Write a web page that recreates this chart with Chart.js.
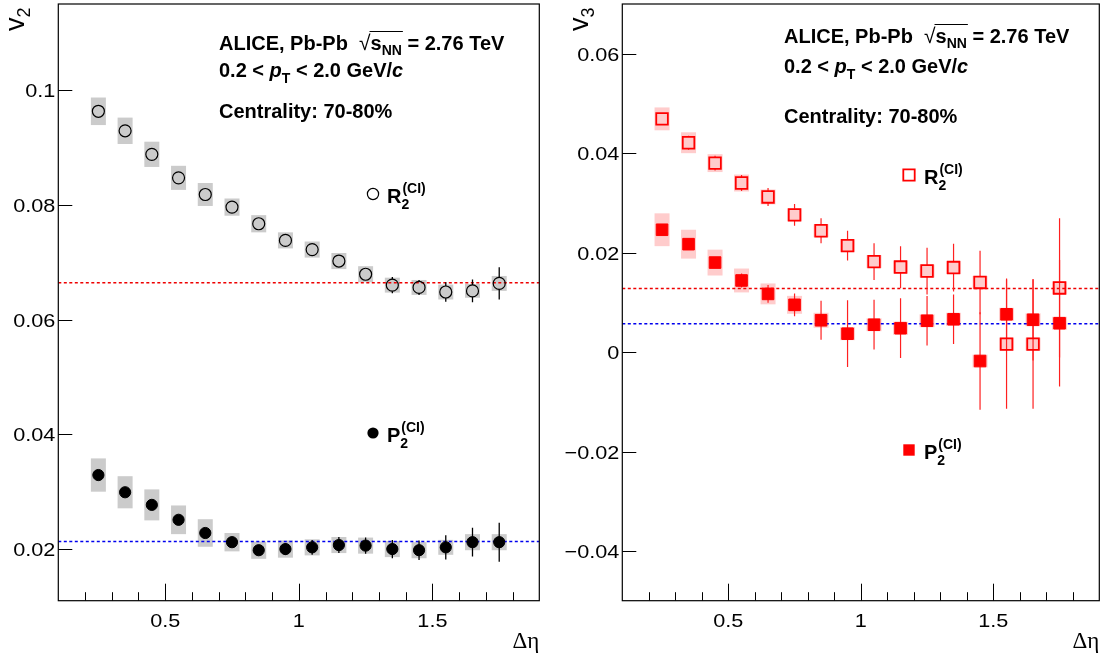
<!DOCTYPE html>
<html>
<head>
<meta charset="utf-8">
<script src="https://cdn.jsdelivr.net/npm/chart.js@4.4.0/dist/chart.umd.min.js"></script>
<style>
  html, body { margin:0; padding:0; background:#fff; }
  #w1 { position:absolute; left:0; top:0; width:553px; height:654px; }
  #w2 { position:absolute; left:553px; top:0; width:554px; height:654px; }
</style>
</head>
<body>
<div id="w1"><canvas id="c1" width="553" height="654"></canvas></div>
<div id="w2"><canvas id="c2" width="554" height="654"></canvas></div>
<script>
// ---------------- data ----------------
const eta = [0.25,0.35,0.45,0.55,0.65,0.75,0.85,0.95,1.05,1.15,1.25,1.35,1.45,1.55,1.65,1.75];

const v2R2     = [0.0963,0.0929,0.0888,0.0847,0.0818,0.0796,0.0767,0.0738,0.0722,0.0702,0.0679,0.0660,0.0656,0.0648,0.0650,0.0663];
const v2R2Stat = [0.0004,0.0004,0.0004,0.0005,0.0005,0.0005,0.0006,0.0006,0.0007,0.0008,0.0009,0.0014,0.0013,0.0017,0.0020,0.0028];
const v2R2Sys  = [0.0024,0.0023,0.0022,0.0021,0.0020,0.0015,0.0015,0.0014,0.0014,0.0014,0.0014,0.0013,0.0013,0.0013,0.0012,0.0013];

const v2P2     = [0.0329,0.0299,0.0277,0.0251,0.0228,0.0212,0.0198,0.0200,0.0203,0.0207,0.0206,0.0200,0.0198,0.0203,0.0212,0.0212];
const v2P2Stat = [0.0005,0.0005,0.0005,0.0005,0.0006,0.0007,0.0009,0.0010,0.0013,0.0014,0.0014,0.0016,0.0017,0.0021,0.0025,0.0034];
const v2P2Sys  = [0.0029,0.0028,0.0027,0.0025,0.0024,0.0016,0.0015,0.0015,0.0014,0.0014,0.0014,0.0014,0.0014,0.0013,0.0014,0.0014];

const v3R2     = [0.0469,0.0421,0.0380,0.0340,0.0312,0.0276,0.0244,0.0214,0.0182,0.0171,0.0163,0.0170,0.0140,0.0016,0.0016,0.0129];
const v3R2Stat = [0.0008,0.0014,0.0015,0.0016,0.0018,0.0022,0.0025,0.0030,0.0037,0.0042,0.0047,0.0048,0.0064,0.0130,0.0130,0.0140];
const v3R2Sys  = [0.0023,0.0021,0.0018,0.0017,0.0015,0.0013,0.0013,0.0013,0.0013,0.0013,0.0013,0.0013,0.0013,0.0013,0.0013,0.0013];

const v3P2     = [0.0246,0.0217,0.0180,0.0144,0.0117,0.0095,0.0064,0.0037,0.0055,0.0048,0.0063,0.0066,-0.0018,0.0076,0.0065,0.0058];
const v3P2Stat = [0.0008,0.0008,0.0009,0.0014,0.0018,0.0023,0.0039,0.0067,0.0050,0.0060,0.0050,0.0050,0.0098,0.0072,0.0082,0.0127];
const v3P2Sys  = [0.0033,0.0029,0.0026,0.0024,0.0021,0.0018,0.0015,0.0013,0.0013,0.0013,0.0013,0.0013,0.0013,0.0013,0.0013,0.0013];

const v2RefR2 = 0.0664, v2RefP2 = 0.0213;
const v3RefR2 = 0.0128, v3RefP2 = 0.0057;

const xRange = [0.1, 1.9];
const xTicks = [0.5, 1, 1.5];
const xTickLabels = ["0.5", "1", "1.5"];
const xMinorTicks = [0.2,0.3,0.4,0.6,0.7,0.8,0.9,1.1,1.2,1.3,1.4,1.6,1.7,1.8];
const v2Range = [0.011, 0.115];
const v2Ticks = [0.02, 0.04, 0.06, 0.08, 0.1];
const v2TickLabels = ["0.02", "0.04", "0.06", "0.08", "0.1"];
const v3Range = [-0.05, 0.07];
const v3Ticks = [-0.04, -0.02, 0, 0.02, 0.04, 0.06];
const v3TickLabels = ["\u22120.04", "\u22120.02", "0", "0.02", "0.04", "0.06"];

// ---------------- helpers ----------------
const FAM = '"Liberation Sans", Arial, Helvetica, sans-serif';
function fnt(s, b, i) { return (i ? 'italic ' : '') + (b ? 'bold ' : '') + s + 'px ' + FAM; }
function drawRich(ctx, x, y, segs) {
  let cx = x; const marks = {};
  ctx.textAlign = 'left'; ctx.textBaseline = 'alphabetic';
  for (const sg of segs) {
    ctx.font = sg.f || fnt(sg.s, sg.b, sg.i);
    if (sg.mark) marks[sg.mark] = cx;
    ctx.fillText(sg.t, cx, y + (sg.dy || 0));
    const w = ctx.measureText(sg.t).width;
    if (!sg.noAdv) cx += w;
    if (sg.markEnd) marks[sg.markEnd] = cx;
  }
  return { end: cx, marks };
}
function stretchText(ctx, txt, x, y, align, sx) {
  ctx.save();
  ctx.translate(x, y); ctx.scale(sx, 1);
  ctx.textAlign = align; ctx.textBaseline = 'alphabetic';
  ctx.fillText(txt, 0, 0);
  ctx.restore();
}
function headerText(ctx, x, y1, y2, y3) {
  ctx.fillStyle = '#000';
  const r = drawRich(ctx, x, y1, [
    { t: 'ALICE, Pb-Pb  ', s: 20, b: true },
    { t: '\u221A', s: 21, b: false, markEnd: 'sq0' },
    { t: 's', s: 20, b: true },
    { t: 'NN', s: 14, b: true, dy: 5, markEnd: 'sq1' },
    { t: ' = 2.76 TeV', s: 20, b: true }
  ]);
  ctx.strokeStyle = '#000'; ctx.lineWidth = 1.2;
  ctx.beginPath(); ctx.moveTo(r.marks.sq0 - 1, y1 - 18.5); ctx.lineTo(r.marks.sq1 + 1, y1 - 18.5); ctx.stroke();
  drawRich(ctx, x, y2, [
    { t: '0.2 < ', s: 20, b: true },
    { t: 'p', s: 20, b: true, i: true },
    { t: 'T', s: 14, b: true, dy: 6 },
    { t: ' < 2.0 GeV/', s: 20, b: true },
    { t: 'c', s: 20, b: true, i: true }
  ]);
  drawRich(ctx, x, y3, [{ t: 'Centrality: 70-80%', s: 20, b: true }]);
}
function legendLabel(ctx, x, y, letter) {
  ctx.fillStyle = '#000';
  const r = drawRich(ctx, x, y, [{ t: letter, s: 20, b: true }]);
  drawRich(ctx, r.end, y, [{ t: '2', s: 14, b: true, dy: 6 }]);
  drawRich(ctx, r.end + 1, y, [{ t: '(CI)', s: 14, b: true, dy: -10 }]);
}
function yTitle(ctx, bx, by, main, sub) {
  ctx.save();
  ctx.translate(bx, by);
  ctx.rotate(-Math.PI / 2);
  ctx.fillStyle = '#000';
  drawRich(ctx, 0, 0, [{ t: main, s: 27, b: false }, { t: sub, s: 18, b: false, dy: 6 }]);
  ctx.restore();
}
function xTitle(ctx, rx, by) {
  ctx.fillStyle = '#000';
  ctx.font = '23px "Liberation Serif", "DejaVu Serif", serif';
  ctx.textAlign = 'right'; ctx.textBaseline = 'alphabetic';
  ctx.fillText('\u0394\u03B7', rx, by);
}

function panelPlugin(p) {
  return {
    id: 'panel',
    beforeDatasetsDraw(chart) {
      const ctx = chart.ctx, a = chart.chartArea, xs = chart.scales.x, ys = chart.scales.y;
      ctx.save();
      ctx.beginPath(); ctx.rect(a.left, a.top, a.right - a.left, a.bottom - a.top); ctx.clip();
      // systematic boxes
      for (const s of p.series) {
        ctx.fillStyle = s.boxColor;
        for (let i = 0; i < eta.length; i++) {
          const px = xs.getPixelForValue(eta[i]);
          const yt = ys.getPixelForValue(s.val[i] + s.sys[i]);
          const yb = ys.getPixelForValue(s.val[i] - s.sys[i]);
          ctx.fillRect(px - p.boxHalf, yt, 2 * p.boxHalf, yb - yt);
        }
      }
      // reference lines
      ctx.lineWidth = 1.5; ctx.setLineDash([3, 2.5]);
      for (const r of p.refs) {
        const py = ys.getPixelForValue(r.v);
        ctx.strokeStyle = r.c;
        ctx.beginPath(); ctx.moveTo(a.left, py); ctx.lineTo(a.right, py); ctx.stroke();
      }
      ctx.setLineDash([]);
      // statistical error bars (outside marker)
      for (const s of p.series) {
        ctx.strokeStyle = s.errColor; ctx.lineWidth = s.errWidth;
        for (let i = 0; i < eta.length; i++) {
          const px = xs.getPixelForValue(eta[i]);
          const pc = ys.getPixelForValue(s.val[i]);
          const yt = ys.getPixelForValue(s.val[i] + s.stat[i]);
          const yb = ys.getPixelForValue(s.val[i] - s.stat[i]);
          ctx.beginPath();
          if (pc - yt > s.gap) { ctx.moveTo(px, yt); ctx.lineTo(px, pc - s.gap); }
          if (yb - pc > s.gap) { ctx.moveTo(px, pc + s.gap); ctx.lineTo(px, yb); }
          ctx.stroke();
        }
      }
      ctx.restore();
    },
    afterDraw(chart) {
      const ctx = chart.ctx, a = chart.chartArea, xs = chart.scales.x, ys = chart.scales.y;
      ctx.save();
      ctx.strokeStyle = '#000'; ctx.lineWidth = 1.2;
      ctx.strokeRect(a.left, a.top, a.right - a.left, a.bottom - a.top);
      ctx.lineWidth = 1;
      ctx.beginPath();
      for (const v of p.yTicks) {
        const py = Math.round(ys.getPixelForValue(v)) + 0.5;
        ctx.moveTo(a.left, py); ctx.lineTo(a.left + 14, py);
      }
      for (const v of xTicks) {
        const px = Math.round(xs.getPixelForValue(v)) + 0.5;
        ctx.moveTo(px, a.bottom); ctx.lineTo(px, a.bottom - 17);
      }
      for (const v of xMinorTicks) {
        const px = Math.round(xs.getPixelForValue(v)) + 0.5;
        ctx.moveTo(px, a.bottom); ctx.lineTo(px, a.bottom - 8.5);
      }
      ctx.stroke();
      // tick labels (slightly wide, like the reference)
      ctx.fillStyle = '#000';
      ctx.font = fnt(19, false, false);
      p.yTicks.forEach((v, i) => stretchText(ctx, p.yLabels[i], a.left - 3, ys.getPixelForValue(v) + 7, 'right', 1.14));
      xTicks.forEach((v, i) => stretchText(ctx, xTickLabels[i], xs.getPixelForValue(v), a.bottom + 26.3, 'center', 1.14));
      // header texts
      headerText(ctx, p.text.x, p.text.y[0], p.text.y[1], p.text.y[2]);
      // legend
      for (const L of p.legend) {
        ctx.lineWidth = L.lw;
        ctx.strokeStyle = L.color; ctx.fillStyle = L.color;
        ctx.beginPath();
        if (L.shape === 'circle') ctx.arc(L.x, L.y, L.r, 0, Math.PI * 2);
        else ctx.rect(L.x - L.r, L.y - L.r, 2 * L.r, 2 * L.r);
        if (L.fill) ctx.fill(); else ctx.stroke();
        legendLabel(ctx, L.tx, L.ty, L.letter);
      }
      yTitle(ctx, p.yTitle.x, p.yTitle.y, 'v', p.yTitle.sub);
      xTitle(ctx, a.right, 648);
      ctx.restore();
    }
  };
}

function makeChart(id, p) {
  const ds = p.series.map(s => ({
    data: eta.map((e, i) => ({ x: e, y: s.val[i] })),
    pointStyle: s.pointStyle,
    pointRadius: s.radius,
    pointBorderWidth: s.bw,
    pointBorderColor: s.color,
    pointBackgroundColor: s.fill ? s.color : 'rgba(0,0,0,0)',
    showLine: false
  }));
  return new Chart(document.getElementById(id), {
    type: 'scatter',
    data: { datasets: ds },
    options: {
      responsive: false, animation: false, devicePixelRatio: 1, events: [],
      layout: { autoPadding: false, padding: { left: 0, top: 4, right: p.padRight, bottom: 0 } },
      plugins: { legend: { display: false }, tooltip: { enabled: false } },
      scales: {
        x: {
          type: 'linear', min: xRange[0], max: xRange[1],
          grid: { display: false, drawTicks: false }, border: { display: false },
          afterBuildTicks: s => { s.ticks = xTicks.map(v => ({ value: v })); },
          afterFit: s => { s.height = 53.3; s.paddingLeft = 0; s.paddingRight = 0; },
          ticks: { display: false }
        },
        y: {
          type: 'linear', min: p.yRange[0], max: p.yRange[1],
          grid: { display: false, drawTicks: false }, border: { display: false },
          afterBuildTicks: s => { s.ticks = p.yTicks.map(v => ({ value: v })); },
          afterFit: s => { s.width = p.yWidth; s.paddingTop = 0; s.paddingBottom = 0; },
          ticks: { display: false }
        }
      }
    },
    plugins: [panelPlugin(p)]
  });
}

makeChart('c1', {
  yRange: v2Range, yTicks: v2Ticks, yLabels: v2TickLabels, yWidth: 58.3, padRight: 13.7, boxHalf: 7.5,
  series: [
    { val: v2R2, stat: v2R2Stat, sys: v2R2Sys, boxColor: '#cbcbcb', errColor: '#000', errWidth: 1.3, gap: 6,
      pointStyle: 'circle', radius: 6, bw: 1.2, color: '#000', fill: false },
    { val: v2P2, stat: v2P2Stat, sys: v2P2Sys, boxColor: '#cbcbcb', errColor: '#000', errWidth: 1.3, gap: 0,
      pointStyle: 'circle', radius: 5.6, bw: 1, color: '#000', fill: true }
  ],
  refs: [{ v: v2RefR2, c: '#ee0000' }, { v: v2RefP2, c: '#0000ee' }],
  text: { x: 219, y: [50, 77, 118] },
  legend: [
    { shape: 'circle', x: 373, y: 194, r: 5.6, lw: 1.2, color: '#000', fill: false, tx: 387, ty: 202.5, letter: 'R' },
    { shape: 'circle', x: 373, y: 433, r: 5.6, lw: 1, color: '#000', fill: true, tx: 387, ty: 441.5, letter: 'P' }
  ],
  yTitle: { x: 24, y: 31, sub: '2' }
});

makeChart('c2', {
  yRange: v3Range, yTicks: v3Ticks, yLabels: v3TickLabels, yWidth: 69.3, padRight: 7.7, boxHalf: 7.5,
  series: [
    { val: v3R2, stat: v3R2Stat, sys: v3R2Sys, boxColor: '#ffcccc', errColor: '#ff2020', errWidth: 1.2, gap: 6,
      pointStyle: 'rect', radius: 8.2, bw: 1.8, color: '#ff0000', fill: false },
    { val: v3P2, stat: v3P2Stat, sys: v3P2Sys, boxColor: '#ffcccc', errColor: '#ff2020', errWidth: 1.2, gap: 0,
      pointStyle: 'rect', radius: 8.2, bw: 1, color: '#ff0000', fill: true }
  ],
  refs: [{ v: v3RefR2, c: '#ee0000' }, { v: v3RefP2, c: '#0000ee' }],
  text: { x: 231, y: [43, 73, 123] },
  legend: [
    { shape: 'rect', x: 356, y: 175, r: 5.7, lw: 1.8, color: '#ff0000', fill: false, tx: 371, ty: 183.5, letter: 'R' },
    { shape: 'rect', x: 356, y: 450, r: 5.7, lw: 1, color: '#ff0000', fill: true, tx: 371, ty: 458.5, letter: 'P' }
  ],
  yTitle: { x: 35, y: 31, sub: '3' }
});
</script>
</body>
</html>
